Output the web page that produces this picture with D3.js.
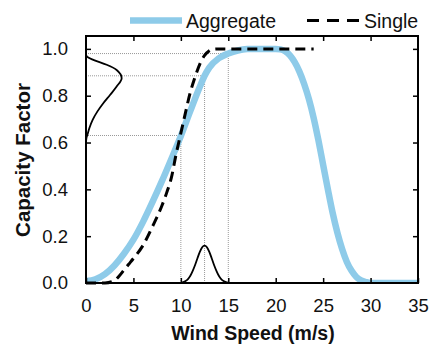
<!DOCTYPE html>
<html>
<head>
<meta charset="utf-8">
<script src="https://cdn.jsdelivr.net/npm/d3@7"></script>
<style>
  html, body { margin: 0; padding: 0; background: #fff; }
  svg { display: block; font-family: "Liberation Sans", Arial, sans-serif; }
</style>
</head>
<body>
<svg id="chart" width="431" height="347"></svg>
<script>
// ---- data ----
const aggSpeed = [0,1,2,3,4,5,6,7,8,9,10,11,12,12.5,13,14,15,16,17,18,19,20,20.5,21,21.5,22,22.5,23,23.5,24,24.5,25,25.5,26,26.5,27,27.5,28,28.5,29,29.5,30,31,32,33,34,35];
const aggCF    = [0.008,0.016,0.038,0.075,0.125,0.185,0.26,0.345,0.435,0.53,0.628,0.735,0.838,0.885,0.92,0.96,0.98,0.993,0.999,1,1,1,0.998,0.99,0.972,0.943,0.903,0.85,0.785,0.705,0.61,0.505,0.40,0.30,0.215,0.145,0.09,0.052,0.026,0.011,0.004,0,0,0,0,0,0];

const singleSpeed = [0,1,2,3,3.5,4,4.5,5,6,7,8,8.5,9,9.5,10,10.5,11,11.5,12,12.5,13,13.5,14,24];
const singleCF    = [0,0,0,0.01,0.03,0.055,0.08,0.105,0.16,0.24,0.33,0.385,0.45,0.55,0.64,0.73,0.815,0.88,0.935,0.972,0.992,0.999,1,1];

// wind speed distribution (drawn along the x axis)
const windPdfSpeed = [10,10.25,10.5,10.75,11,11.25,11.5,11.75,12,12.25,12.5,12.75,13,13.25,13.5,13.75,14,14.25,14.5,14.75,15];
const windPdfValue = [0.0017,0.004,0.0088,0.017,0.031,0.052,0.077,0.106,0.133,0.153,0.16,0.153,0.133,0.106,0.077,0.052,0.031,0.017,0.0088,0.004,0.0017];

// capacity factor distribution (drawn along the y axis, width in m/s units)
const cfPdfLevel = [0.60,0.62,0.632,0.661,0.697,0.732,0.768,0.803,0.839,0.875,0.91,0.932,0.953,0.967,0.975];
const cfPdfWidth = [0,0.05,0.14,0.35,0.70,1.19,1.82,2.53,3.23,3.76,3.23,2.18,0.77,0.1,0];

// guide lines
const guideSpeed = [10,12.5,15];
const guideCF    = [0.63,0.885,0.98];

const xTicks = [0,5,10,15,20,25,30,35];
const yTicks = [0,0.2,0.4,0.6,0.8,1.0];

const seriesNames = ["Aggregate","Single"];

// ---- layout ----
const W = 431, H = 347;
const m = {left: 86, right: 13, top: 36, bottom: 64};
const x = d3.scaleLinear().domain([0,35]).range([m.left, W - m.right]);
const y = d3.scaleLinear().domain([0,1.055]).range([H - m.bottom, m.top]);

const svg = d3.select("#chart");
const blue = "#8ecbe9";

svg.append("defs").append("clipPath").attr("id","clip")
  .append("rect").attr("x", m.left).attr("y", m.top)
  .attr("width", x(35)-x(0)).attr("height", y(0)-m.top);

const plot = svg.append("g").attr("clip-path","url(#clip)");

// guide lines
guideSpeed.forEach((s,i) => {
  plot.append("line").attr("x1", x(s)).attr("x2", x(s)).attr("y1", y(0)).attr("y2", y(guideCF[i]))
    .attr("stroke","#999").attr("stroke-width",1).attr("stroke-dasharray","1,1");
  plot.append("line").attr("x1", x(0)).attr("x2", x(s)).attr("y1", y(guideCF[i])).attr("y2", y(guideCF[i]))
    .attr("stroke","#999").attr("stroke-width",1).attr("stroke-dasharray","1,1");
});

// distributions
const windLine = d3.line().x((d,i)=>x(windPdfSpeed[i])).y((d,i)=>y(windPdfValue[i])).curve(d3.curveMonotoneX);
plot.append("path").attr("d", windLine(windPdfSpeed)).attr("fill","none").attr("stroke","#000").attr("stroke-width",1.8);

const cfLine = d3.line().x((d,i)=>x(cfPdfWidth[i])).y((d,i)=>y(cfPdfLevel[i])).curve(d3.curveMonotoneY);
plot.append("path").attr("d", cfLine(cfPdfLevel)).attr("fill","none").attr("stroke","#000").attr("stroke-width",1.8);

// aggregate
const aggLine = d3.line().x((d,i)=>x(aggSpeed[i])).y((d,i)=>y(aggCF[i])).curve(d3.curveMonotoneX);
plot.append("path").attr("d", aggLine(aggSpeed)).attr("fill","none").attr("stroke",blue).attr("stroke-width",6.5)
  .attr("stroke-linejoin","round");

// single
const singleLine = d3.line().x((d,i)=>x(singleSpeed[i])).y((d,i)=>y(singleCF[i])).curve(d3.curveMonotoneX);
svg.append("path").attr("d", singleLine(singleSpeed)).attr("fill","none").attr("stroke","#000").attr("stroke-width",3)
  .attr("stroke-dasharray","10,6");

// axes (ticks inward on all four sides)
const tl = 5;
const tickFont = "18.5px";
const axB = svg.append("g").attr("transform",`translate(0,${y(0)})`)
  .call(d3.axisBottom(x).tickValues(xTicks).tickSize(-tl).tickPadding(16).tickFormat(d3.format("d")));
const axT = svg.append("g").attr("transform",`translate(0,${m.top})`)
  .call(d3.axisTop(x).tickValues(xTicks.slice(1,-1)).tickSize(-tl).tickFormat(""));
const axL = svg.append("g").attr("transform",`translate(${m.left},0)`)
  .call(d3.axisLeft(y).tickValues(yTicks).tickSize(-tl).tickPadding(18).tickFormat(d3.format(".1f")));
const axR = svg.append("g").attr("transform",`translate(${x(35)},0)`)
  .call(d3.axisRight(y).tickValues(yTicks.slice(1)).tickSize(-tl).tickFormat(""));
[axB,axT,axL,axR].forEach(a => {
  a.select(".domain").remove();
  a.selectAll(".tick line").attr("stroke","#000").attr("stroke-width",1.5);
  a.selectAll("text").attr("fill","#111").style("font-size",tickFont).style("font-family","'Liberation Sans', Arial, sans-serif");
});
axL.selectAll(".tick").filter(d => d === 0).select("line").remove();
svg.append("rect").attr("x", x(0)).attr("y", m.top).attr("width", x(35)-x(0)).attr("height", y(0)-m.top)
  .attr("fill","none").attr("stroke","#000").attr("stroke-width",2);

// axis titles
svg.append("text").attr("x", (x(0)+x(35))/2 + 1).attr("y", 340).attr("text-anchor","middle")
  .style("font-weight","bold").style("font-size","19.5px").attr("fill","#111").text("Wind Speed (m/s)");
svg.append("text").attr("transform",`translate(30,${(y(0)+m.top)/2 + 0.5}) rotate(-90)`).attr("text-anchor","middle")
  .style("font-weight","bold").style("font-size","20.5px").attr("fill","#111").text("Capacity Factor");

// legend
const lg = svg.append("g");
lg.append("line").attr("x1",130).attr("x2",182).attr("y1",20.5).attr("y2",20.5).attr("stroke",blue).attr("stroke-width",6.5);
lg.append("text").attr("x",186).attr("y",27.5).style("font-size","19.5px").attr("fill","#111").text(seriesNames[0]);
lg.append("line").attr("x1",307).attr("x2",361).attr("y1",20.5).attr("y2",20.5).attr("stroke","#000").attr("stroke-width",3)
  .attr("stroke-dasharray","12,8");
lg.append("text").attr("x",364).attr("y",27.5).style("font-size","19.5px").attr("fill","#111").text(seriesNames[1]);
</script>
</body>
</html>
